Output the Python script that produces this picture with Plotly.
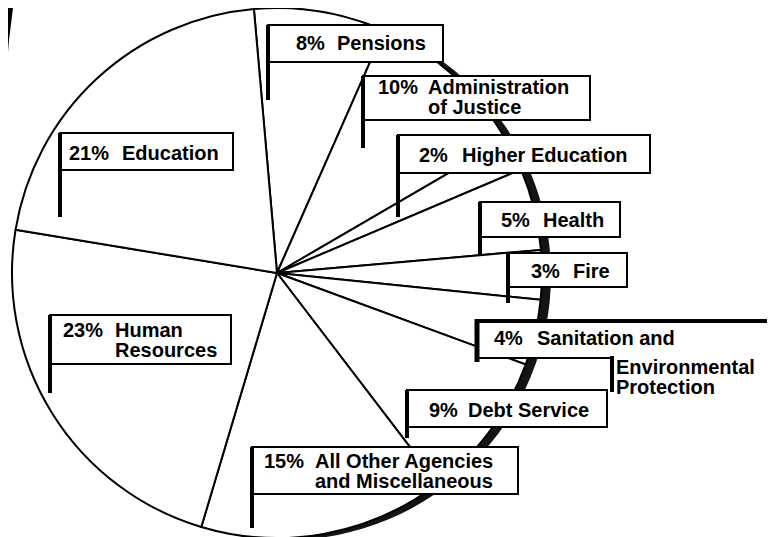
import plotly.graph_objects as go

# ---- data ----
categories = ["Pensions", "Administration of Justice", "Higher Education", "Health", "Fire",
              "Sanitation and Environmental Protection", "Debt Service",
              "All Other Agencies and Miscellaneous", "Human Resources", "Education"]
values = [8, 10, 2, 5, 3, 4, 9, 15, 23, 21]
name_lines = [["Pensions"], ["Administration", "of Justice"], ["Higher Education"], ["Health"], ["Fire"],
              ["Sanitation and", "Environmental", "Protection"], ["Debt Service"],
              ["All Other Agencies", "and Miscellaneous"], ["Human", "Resources"], ["Education"]]

# ---- layout (pixel positions of label flags, in page pixels) ----
W, H = 775, 537
OFF = 8  # page body margin
boxes = [
    dict(box=(268, 25, 443, 62), pole=100, pct=(295, 43), names=[(336, 43)]),
    dict(box=(363, 76, 590, 120), pole=148, pct=(377, 87), names=[(427, 87), (427, 107)]),
    dict(box=(398, 135, 650, 173), pole=217, pct=(418, 155), names=[(461, 155)]),
    dict(box=(480, 202, 620, 237), pole=255, pct=(500, 220), names=[(542, 220)]),
    dict(box=(508, 253, 627, 287), pole=303, pct=(530, 271), names=[(572, 271)]),
    dict(box=None, pole=None, pct=(493, 338), names=[(536, 338), (615, 367), (615, 387)]),
    dict(box=(407, 390, 607, 427), pole=438, pct=(428, 410), names=[(467, 410)]),
    dict(box=(252, 447, 518, 494), pole=528, pct=(263, 461), names=[(314, 461), (314, 481)]),
    dict(box=(50, 315, 231, 364), pole=393, pct=(62, 330), names=[(114, 330), (114, 350)]),
    dict(box=(60, 133, 233, 170), pole=217, pct=(68, 153), names=[(121, 153)]),
]

def px(x):
    return (x - OFF) / W

def py(y):
    return 1 - (y - OFF) / H

FONT = dict(family="Liberation Sans, Arial", size=20, color="black", weight="bold")

fig = go.Figure()

# drop shadow pie
fig.add_trace(go.Pie(values=[1], marker=dict(colors=["#141414"], line=dict(width=0)),
                     textinfo="none", hoverinfo="skip", sort=False, showlegend=False,
                     domain=dict(x=[px(21), px(551)], y=[py(540), py(10)])))
# main pie
fig.add_trace(go.Pie(labels=categories, values=values, sort=False, direction="clockwise",
                     rotation=-5, textinfo="none", showlegend=False,
                     marker=dict(colors=["white"] * len(values), line=dict(color="black", width=2)),
                     domain=dict(x=[px(12), px(542)], y=[py(538), py(8)])))

shapes = []
annotations = []

def line(x0, y0, x1, y1, w):
    shapes.append(dict(type="line", xref="paper", yref="paper", x0=px(x0), y0=py(y0),
                       x1=px(x1), y1=py(y1), line=dict(color="black", width=w)))

for b in boxes:
    if b["box"] is not None:
        x0, y0, x1, y1 = b["box"]
        shapes.append(dict(type="rect", xref="paper", yref="paper", x0=px(x0), y0=py(y1),
                           x1=px(x1), y1=py(y0), fillcolor="white",
                           line=dict(color="black", width=2)))
        line(x0, y0, x0, b["pole"], 4)

# sanitation flag (irregular)
shapes.append(dict(type="rect", xref="paper", yref="paper", x0=px(477), y0=py(358),
                   x1=px(775), y1=py(321), fillcolor="white", line=dict(width=0)))
line(477, 321, 775, 321, 4)
line(477, 319, 477, 362, 5)
line(477, 358, 612, 358, 2)
line(612, 356, 612, 392, 4)

# binding shadow at top-left corner
shapes.append(dict(type="path", xref="paper", yref="paper",
                   path=f"M {px(8)} {py(8)} L {px(13)} {py(8)} L {px(9)} {py(40)} L {px(8)} {py(52)} Z",
                   fillcolor="black", line=dict(width=0)))

for v, lines, b in zip(values, name_lines, boxes):
    annotations.append(dict(text=f"{v}%", xref="paper", yref="paper", x=px(b["pct"][0]),
                            y=py(b["pct"][1]), xanchor="left", yanchor="middle",
                            showarrow=False, font=FONT, borderpad=0))
    for t, (nx, ny) in zip(lines, b["names"]):
        annotations.append(dict(text=t, xref="paper", yref="paper", x=px(nx), y=py(ny),
                                xanchor="left", yanchor="middle", showarrow=False,
                                font=FONT, borderpad=0))

fig.update_layout(width=W, height=H, margin=dict(l=0, r=0, t=0, b=0),
                  paper_bgcolor="white", plot_bgcolor="white",
                  shapes=shapes, annotations=annotations)

fig.write_html("out.html")
